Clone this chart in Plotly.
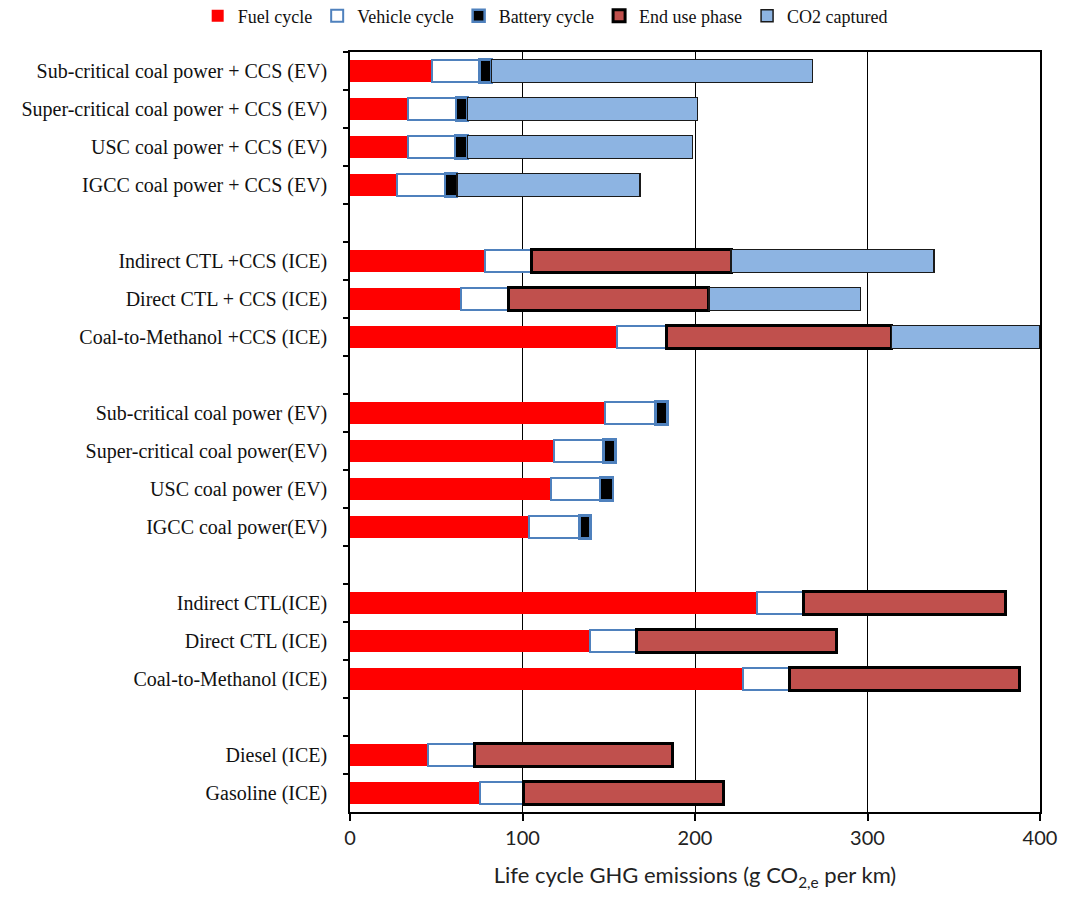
import plotly.graph_objects as go

# Pathway labels, top to bottom; whitespace-only entries are spacer rows between groups
pathways = [
    "Sub-critical coal power + CCS (EV)",
    "Super-critical coal power + CCS (EV)",
    "USC coal power + CCS (EV)",
    "IGCC coal power + CCS (EV)",
    " ",
    "Indirect CTL +CCS (ICE)",
    "Direct CTL + CCS (ICE)",
    "Coal-to-Methanol +CCS (ICE)",
    "  ",
    "Sub-critical coal power (EV)",
    "Super-critical coal power(EV)",
    "USC coal power (EV)",
    "IGCC coal power(EV)",
    "   ",
    "Indirect CTL(ICE)",
    "Direct CTL (ICE)",
    "Coal-to-Methanol (ICE)",
    "    ",
    "Diesel (ICE)",
    "Gasoline (ICE)",
]

# Life cycle GHG emissions by stage (g CO2,e per km)
fuel_cycle = [47.5, 33.5, 33.5, 27, None,
              78.5, 64.5, 155, None,
              148, 118.5, 116.5, 104, None,
              236, 139, 228, None,
              45, 75.5]
vehicle_cycle = [27.5, 28, 27.5, 28, None,
                 26.5, 27.5, 28.5, None,
                 29, 28.5, 28.5, 29, None,
                 27, 27, 27, None,
                 27, 25]
battery_cycle = [7, 6.5, 7, 7, None,
                 None, None, None, None,
                 7, 7, 7.5, 6.5, None,
                 None, None, None, None,
                 None, None]
end_use_phase = [None, None, None, None, None,
                 116, 116, 130.5, None,
                 None, None, None, None, None,
                 117, 116, 133, None,
                 115, 116]
co2_captured = [186, 133.5, 130.5, 106, None,
                117.5, 88, 86, None,
                None, None, None, None, None,
                None, None, None, None,
                None, None]

series = [
    ("Fuel cycle", fuel_cycle, "#FF0000", "#FF0000", 0),
    ("Vehicle cycle", vehicle_cycle, "#FFFFFF", "#4F81BD", 2),
    ("Battery cycle", battery_cycle, "#000000", "#4F81BD", 2.5),
    ("End use phase", end_use_phase, "#C0504D", "#000000", 3),
    ("CO2 captured", co2_captured, "#8DB4E2", "#1A1A1A", 1.5),
]

fig = go.Figure()
for name, values, fill, edge, lw in series:
    fig.add_trace(go.Bar(
        name=name,
        y=pathways,
        x=values,
        orientation="h",
        width=0.6,
        marker=dict(color=fill, line=dict(color=edge, width=lw)),
    ))

serif = "Liberation Serif, Times New Roman, serif"
sans = "Lato, Open Sans, sans-serif"

fig.update_layout(
    barmode="stack",
    width=1069,
    height=897,
    paper_bgcolor="white",
    plot_bgcolor="white",
    margin=dict(l=350, r=29, t=52, b=85),
    legend=dict(
        orientation="h",
        xref="container", yref="container",
        x=0.51, xanchor="center",
        y=1 - 16 / 897, yanchor="middle",
        font=dict(family=serif, size=18, color="#111"),
        traceorder="normal",
        itemwidth=30,
    ),
    bargap=0.4,
)

fig.update_xaxes(
    range=[0, 400],
    tickvals=[0, 100, 200, 300, 400],
    showgrid=True, gridcolor="#000000", gridwidth=1,
    zeroline=False,
    showline=True, linecolor="#000000", linewidth=1.5, mirror=True,
    ticks="outside", ticklen=7, tickcolor="#000000", tickwidth=1.5,
    tickfont=dict(family=sans, size=20, color="#222"),
    title=dict(text="Life cycle GHG emissions (g CO<sub>2,e</sub> per km)",
               font=dict(family=sans, size=22, color="#222"), standoff=20),
)

fig.update_yaxes(
    type="category",
    categoryorder="array",
    categoryarray=pathways,
    range=[len(pathways) - 0.5, -0.5],
    showgrid=False,
    zeroline=False,
    showline=True, linecolor="#000000", linewidth=1.5, mirror=True,
    ticks="outside", tickson="boundaries", ticklen=5, tickcolor="#000000", tickwidth=1.5,
    ticklabelstandoff=17,
    tickfont=dict(family=serif, size=20, color="#111"),
)

fig.write_html("out.html")
